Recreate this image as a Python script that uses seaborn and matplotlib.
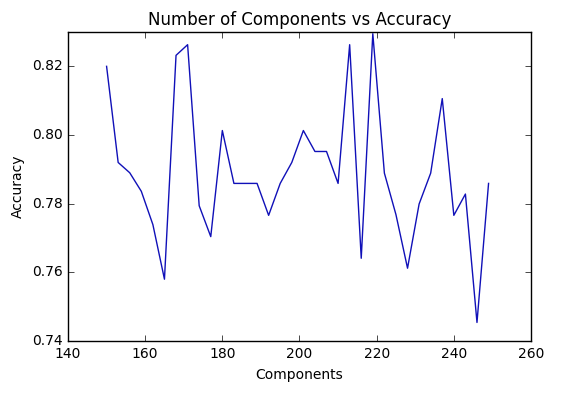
import matplotlib
matplotlib.use("Agg")
import matplotlib.pyplot as plt
import seaborn as sns
import pandas as pd

components = list(range(150, 250, 3))
accuracy = [0.8200, 0.7920, 0.7890, 0.7836, 0.7739, 0.7580, 0.8232, 0.8263,
            0.7794, 0.7704, 0.8013, 0.7859, 0.7859, 0.7859, 0.7766, 0.7859,
            0.7920, 0.8013, 0.7952, 0.7952, 0.7859, 0.8263, 0.7641, 0.8295,
            0.7889, 0.7768, 0.7612, 0.7799, 0.7889, 0.8106, 0.7766, 0.7828,
            0.7454, 0.7859]

df = pd.DataFrame({"Components": components, "Accuracy": accuracy})

plt.style.use("classic")
fig = plt.figure(figsize=(5.73, 3.94), dpi=100, facecolor="white")
ax = fig.add_axes([68/573, 1-341/394, (531-68)/573, (341-32)/394])
sns.lineplot(data=df, x="Components", y="Accuracy", color="#1010b8", linewidth=1.0, ax=ax)
ax.set_xlim(140, 260)
ax.set_ylim(0.74, 0.83)
ax.set_xticks([140, 160, 180, 200, 220, 240, 260])
ax.set_yticks([0.74, 0.76, 0.78, 0.80, 0.82])
ax.set_yticklabels(["0.74", "0.76", "0.78", "0.80", "0.82"])
ax.tick_params(labelsize=10, direction="in", top=True, right=True)
ax.set_xlabel("Components", fontsize=10)
ax.set_ylabel("Accuracy", fontsize=10)
ax.set_title("Number of Components vs Accuracy", fontsize=12)
fig.savefig("out.png", dpi=100, facecolor="white")
